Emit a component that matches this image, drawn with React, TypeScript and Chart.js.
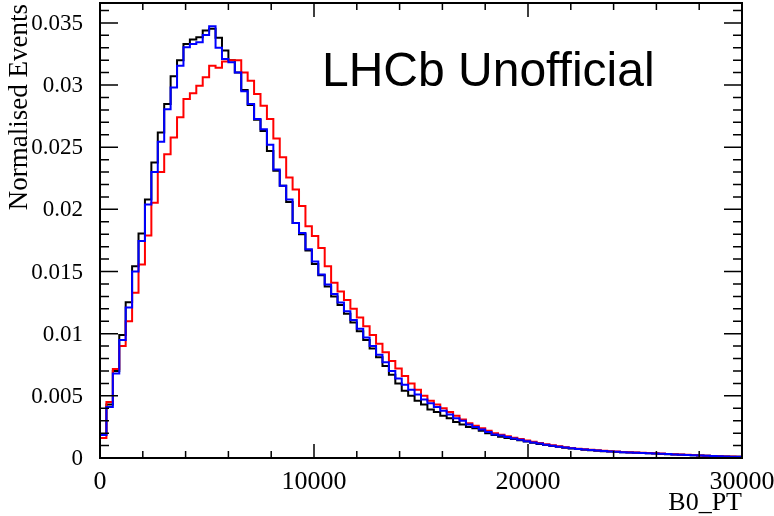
import React, { useEffect, useRef } from "react";
import { Chart, registerables } from "chart.js";

Chart.register(...registerables);

// Binning of the histograms
const BIN_WIDTH = 300;
const X_MIN = 0;
const X_MAX = 30000;
const Y_MIN = 0;
const Y_MAX = 0.0366;

const X_TICKS = [0, 10000, 20000, 30000];
const X_TICK_LABELS = ["0", "10000", "20000", "30000"];
const X_MINOR_STEP = 2000;
const Y_TICKS = [0, 0.005, 0.01, 0.015, 0.02, 0.025, 0.03, 0.035];
const Y_TICK_LABELS = ["0", "0.005", "0.01", "0.015", "0.02", "0.025", "0.03", "0.035"];
const Y_MINOR_STEP = 0.001;

const X_TITLE = "B0_PT";
const Y_TITLE = "Normalised Events";
const WATERMARK = "LHCb Unofficial";

// Normalised bin contents (100 bins of 300)
const BLACK = [
  0.0019, 0.0043, 0.007, 0.0099, 0.01253, 0.01543, 0.01806, 0.0208, 0.02377, 0.02618,
  0.02847, 0.0307, 0.032, 0.0333, 0.03366, 0.03385, 0.03438, 0.03452, 0.0338, 0.03277,
  0.032, 0.031, 0.0296, 0.0284, 0.0272, 0.0263, 0.0247, 0.0231, 0.0219, 0.0206,
  0.0189, 0.018, 0.0167, 0.0156, 0.0147, 0.0138, 0.013, 0.0123, 0.0116, 0.0109,
  0.0102, 0.0095, 0.0088, 0.0081, 0.0074, 0.0067, 0.006, 0.0054, 0.005, 0.0046,
  0.0043, 0.0039, 0.0037, 0.0034, 0.0032, 0.0029, 0.0027, 0.0025, 0.0024, 0.0022,
  0.002, 0.00185, 0.0017, 0.0016, 0.00152, 0.00142, 0.00132, 0.00122, 0.00113, 0.00105,
  0.00097, 0.0009, 0.00083, 0.00077, 0.00072, 0.00067, 0.00063, 0.00059, 0.00055, 0.00052,
  0.00049, 0.00046, 0.00044, 0.00042, 0.0004, 0.00038, 0.00036, 0.00033, 0.00031, 0.00029,
  0.00026, 0.00024, 0.00022, 0.0002, 0.00018, 0.00016, 0.00014, 0.00012, 0.00011, 0.0001,
];

const BLUE = [
  0.00185, 0.0041, 0.0068, 0.0095, 0.0121, 0.015, 0.01745, 0.0204, 0.023, 0.02543,
  0.02806, 0.0298, 0.03156, 0.03304, 0.0333, 0.03344, 0.03403, 0.03473, 0.033, 0.0321,
  0.03183, 0.031, 0.0295, 0.02847, 0.02726, 0.02645, 0.0252, 0.0232, 0.0219, 0.0208,
  0.0189, 0.0181, 0.0168, 0.0158, 0.01476, 0.01395, 0.0132, 0.0125, 0.0118, 0.0111,
  0.0104, 0.0097, 0.009, 0.0083, 0.0077, 0.007, 0.0064, 0.0059, 0.0055, 0.0051,
  0.0047, 0.0044, 0.0041, 0.0038, 0.0035, 0.0032, 0.003, 0.0027, 0.0025, 0.0023,
  0.0021, 0.0019, 0.0018, 0.00168, 0.00157, 0.00146, 0.00135, 0.00125, 0.00116, 0.00107,
  0.00099, 0.00091, 0.00085, 0.00078, 0.00073, 0.00068, 0.00064, 0.0006, 0.00056, 0.00053,
  0.0005, 0.00047, 0.00045, 0.00043, 0.00041, 0.00039, 0.00037, 0.00034, 0.00032, 0.00029,
  0.00027, 0.00025, 0.00023, 0.0002, 0.00018, 0.00016, 0.00014, 0.00013, 0.00011, 0.0001,
];

const RED = [
  0.0016, 0.0045, 0.00715, 0.009, 0.011, 0.0133, 0.01556, 0.0179, 0.02054, 0.023,
  0.02444, 0.02578, 0.0274, 0.02887, 0.02935, 0.02995, 0.03062, 0.03156, 0.0314, 0.0319,
  0.032, 0.032, 0.031, 0.03035, 0.02927, 0.02833, 0.02726, 0.0257, 0.0242, 0.02256,
  0.0216, 0.02027, 0.01865, 0.01785, 0.0169, 0.01543, 0.0141, 0.0134, 0.0127, 0.012,
  0.0113, 0.0106, 0.0099, 0.0092, 0.0085, 0.0078, 0.0072, 0.0066, 0.006, 0.0055,
  0.005, 0.0046, 0.0043, 0.004, 0.0037, 0.0034, 0.0031, 0.0028, 0.0026, 0.0024,
  0.0022, 0.002, 0.00188, 0.00175, 0.00163, 0.00152, 0.0014, 0.0013, 0.0012, 0.0011,
  0.00102, 0.00094, 0.00087, 0.0008, 0.00075, 0.0007, 0.00066, 0.00062, 0.00058, 0.00055,
  0.00052, 0.00049, 0.00047, 0.00045, 0.00043, 0.00041, 0.00039, 0.00036, 0.00033, 0.0003,
  0.00028, 0.00026, 0.00024, 0.00021, 0.00019, 0.00017, 0.00015, 0.00013, 0.00012, 0.0001,
];

const SERIF = '"Liberation Serif", "DejaVu Serif", serif';
const SANS = '"Liberation Sans", Arial, "DejaVu Sans", sans-serif';

// Histogram outline: each point is a bin's left edge with that bin's content
function stepPoints(values: number[]) {
  const pts: { x: number; y: number }[] = [{ x: X_MIN, y: 0 }];
  values.forEach((v, i) => pts.push({ x: X_MIN + i * BIN_WIDTH, y: v }));
  const last = values[values.length - 1];
  pts.push({ x: X_MIN + values.length * BIN_WIDTH, y: last });
  return pts;
}

const rootFramePlugin = {
  id: "rootFrame",
  afterDraw(chart: any) {
    const { ctx, chartArea: a, scales } = chart;
    const xs = scales.x;
    const ys = scales.y;
    ctx.save();
    ctx.strokeStyle = "#000";
    ctx.lineWidth = 2;
    ctx.strokeRect(a.left, a.top, a.right - a.left, a.bottom - a.top);

    ctx.lineWidth = 1.5;
    ctx.beginPath();
    const nx = Math.round((X_MAX - X_MIN) / X_MINOR_STEP);
    for (let i = 0; i <= nx; i++) {
      const v = X_MIN + i * X_MINOR_STEP;
      const px = xs.getPixelForValue(v);
      const major = i % 5 === 0;
      const len = major ? 14 : 7;
      ctx.moveTo(px, a.bottom);
      ctx.lineTo(px, a.bottom - len);
      ctx.moveTo(px, a.top);
      ctx.lineTo(px, a.top + len);
    }
    const ny = Math.floor((Y_MAX - Y_MIN) / Y_MINOR_STEP + 1e-9);
    for (let i = 0; i <= ny; i++) {
      const v = Y_MIN + i * Y_MINOR_STEP;
      const py = ys.getPixelForValue(v);
      const major = i % 5 === 0;
      const len = major ? 18 : 9;
      ctx.moveTo(a.left, py);
      ctx.lineTo(a.left + len, py);
      ctx.moveTo(a.right, py);
      ctx.lineTo(a.right - len, py);
    }
    ctx.stroke();

    ctx.fillStyle = "#000";
    // y tick labels
    ctx.font = `23px ${SERIF}`;
    ctx.textAlign = "right";
    ctx.textBaseline = "middle";
    Y_TICKS.forEach((v, i) => {
      ctx.fillText(Y_TICK_LABELS[i], a.left - 17, ys.getPixelForValue(v) + 1);
    });
    // x tick labels
    ctx.font = `26px ${SERIF}`;
    ctx.textAlign = "center";
    ctx.textBaseline = "alphabetic";
    X_TICKS.forEach((v, i) => {
      ctx.fillText(X_TICK_LABELS[i], xs.getPixelForValue(v), a.bottom + 31);
    });
    // x title
    ctx.font = `26px ${SERIF}`;
    ctx.textAlign = "right";
    ctx.fillText(X_TITLE, a.right, a.bottom + 52);
    // y title
    ctx.save();
    ctx.translate(27, a.top + 1);
    ctx.rotate(-Math.PI / 2);
    ctx.textAlign = "right";
    ctx.textBaseline = "alphabetic";
    ctx.font = `27px ${SERIF}`;
    ctx.fillText(Y_TITLE, 0, 0);
    ctx.restore();
    // watermark
    ctx.font = `48px ${SANS}`;
    ctx.textAlign = "left";
    ctx.fillText(WATERMARK, 322, 86);
    ctx.restore();
  },
};

export default function App() {
  const ref = useRef<HTMLCanvasElement | null>(null);
  useEffect(() => {
    if (!ref.current) return;
    const mk = (data: number[], color: string, order: number) => ({
      data: stepPoints(data),
      borderColor: color,
      borderWidth: 2,
      stepped: "before" as const,
      pointRadius: 0,
      fill: false,
      order,
    });
    const chart = new Chart(ref.current, {
      type: "line",
      data: {
        datasets: [mk(BLUE, "#0000ff", 0), mk(RED, "#ff0000", 1), mk(BLACK, "#000000", 2)],
      },
      options: {
        animation: false,
        responsive: false,
        events: [],
        layout: { padding: { left: 100, right: 32, top: 3, bottom: 58 } },
        plugins: { legend: { display: false }, tooltip: { enabled: false } },
        scales: {
          x: { type: "linear", min: X_MIN, max: X_MAX, display: false },
          y: { type: "linear", min: Y_MIN, max: Y_MAX, display: false },
        },
      },
      plugins: [rootFramePlugin],
    });
    return () => chart.destroy();
  }, []);
  return (
    <div style={{ position: "absolute", left: 0, top: 0, width: 774, height: 516, background: "#fff" }}>
      <canvas ref={ref} width={774} height={516} style={{ width: 774, height: 516, display: "block" }} />
    </div>
  );
}
